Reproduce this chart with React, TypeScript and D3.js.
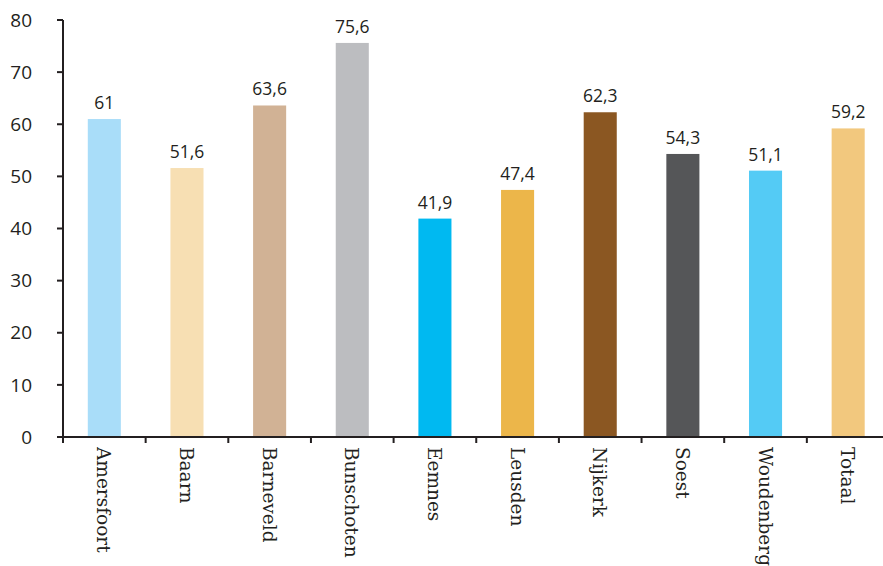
import React from "react";
import * as d3 from "d3";

const categories = ["Amersfoort", "Baarn", "Barneveld", "Bunschoten", "Eemnes", "Leusden", "Nijkerk", "Soest", "Woudenberg", "Totaal"];
const values = [61, 51.6, 63.6, 75.6, 41.9, 47.4, 62.3, 54.3, 51.1, 59.2];
const colors = ["#A9DDF9", "#F7DFB3", "#D1B295", "#BCBDC0", "#00B9F1", "#ECB64A", "#8B5722", "#555658", "#54CBF5", "#F2C87E"];
const yTicks = [0, 10, 20, 30, 40, 50, 60, 70, 80];

export default function App() {
  const W = 883, H = 566;
  const left = 63, top = 20, bottom = 437;
  const step = 82.65;
  const x = d3.scaleBand<string>().domain(categories).range([left, left + step * categories.length]).paddingInner(0.6).paddingOuter(0.3);
  const y = d3.scaleLinear().domain([0, 80]).range([bottom, top]);
  const fmt = (v: number) => String(v).replace(".", ",");
  const axisColor = "#231F20";
  return (
    <svg width={W} height={H} style={{ position: "absolute", left: 0, top: 0, background: "#fff" }}>
      {categories.map((c, i) => (
        <g key={c}>
          <rect x={x(c)} y={y(values[i])} width={x.bandwidth()} height={bottom - y(values[i])} fill={colors[i]} />
          <text x={x(c)! + x.bandwidth() / 2} y={y(values[i]) - 10} textAnchor="middle" fontFamily="Open Sans" fontSize={17.5} fill="#231F20">{fmt(values[i])}</text>
          <text transform={`translate(${x(c)! + x.bandwidth() / 2 - 7},${bottom + 10}) rotate(90)`} fontFamily="'DejaVu Serif'" fontSize={18.5} fill="#231F20">{c}</text>
        </g>
      ))}
      {yTicks.map((t) => (
        <g key={t}>
          <line x1={left - 6} x2={left} y1={y(t)} y2={y(t)} stroke={axisColor} strokeWidth={2} />
          <text x={32} y={y(t)} dy="0.35em" textAnchor="end" fontFamily="Open Sans" fontSize={19} fill="#231F20">{t}</text>
        </g>
      ))}
      {d3.range(categories.length + 1).map((i) => (
        <line key={i} x1={left + i * step} x2={left + i * step} y1={bottom} y2={bottom + 6} stroke={axisColor} strokeWidth={2} />
      ))}
      <line x1={left} x2={left} y1={top} y2={bottom} stroke={axisColor} strokeWidth={2} />
      <line x1={left - 6} x2={W} y1={bottom} y2={bottom} stroke={axisColor} strokeWidth={2} />
    </svg>
  );
}
